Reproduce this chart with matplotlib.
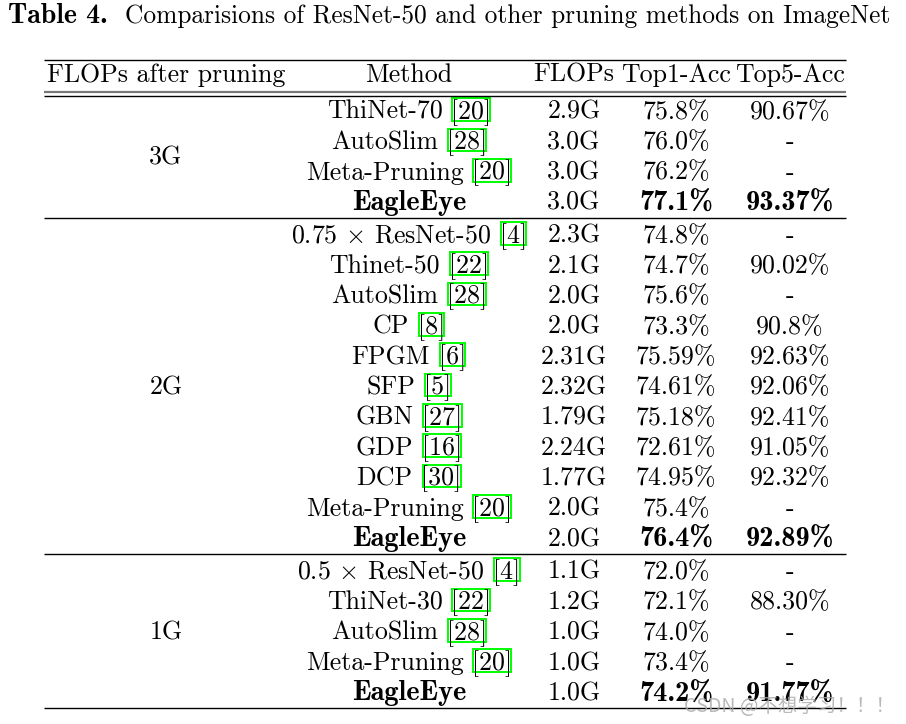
import matplotlib
matplotlib.use("Agg")
import matplotlib.pyplot as plt
from matplotlib.font_manager import FontProperties
from matplotlib.patches import Rectangle

plt.rcParams['mathtext.fontset'] = 'cm'

title_bold = "Table 4."
title_rest = "Comparisions of ResNet-50 and other pruning methods on ImageNet"
headers = ["FLOPs after pruning", "Method", "FLOPs", "Top1-Acc", "Top5-Acc"]

groups = ["3G", "2G", "1G"]
group_sizes = [4, 11, 5]

methods = ["ThiNet-70", "AutoSlim", "Meta-Pruning", "EagleEye",
           r"0.75 $\times$ ResNet-50", "Thinet-50", "AutoSlim", "CP", "FPGM", "SFP",
           "GBN", "GDP", "DCP", "Meta-Pruning", "EagleEye",
           r"0.5 $\times$ ResNet-50", "ThiNet-30", "AutoSlim", "Meta-Pruning", "EagleEye"]
cites = ["20", "28", "20", "",
         "4", "22", "28", "8", "6", "5", "27", "16", "30", "20", "",
         "4", "22", "28", "20", ""]
flops = ["2.9G", "3.0G", "3.0G", "3.0G",
         "2.3G", "2.1G", "2.0G", "2.0G", "2.31G", "2.32G", "1.79G", "2.24G", "1.77G", "2.0G", "2.0G",
         "1.1G", "1.2G", "1.0G", "1.0G", "1.0G"]
top1 = ["75.8%", "76.0%", "76.2%", "77.1%",
        "74.8%", "74.7%", "75.6%", "73.3%", "75.59%", "74.61%", "75.18%", "72.61%", "74.95%", "75.4%", "76.4%",
        "72.0%", "72.1%", "74.0%", "73.4%", "74.2%"]
top5 = ["90.67%", "-", "-", "93.37%",
        "-", "90.02%", "-", "90.8%", "92.63%", "92.06%", "92.41%", "91.05%", "92.32%", "-", "92.89%",
        "-", "88.30%", "-", "-", "91.77%"]
highlight = ["EagleEye"]

W, H = 906, 724
fig = plt.figure(figsize=(W / 100, H / 100), dpi=100)
ax = fig.add_axes([0, 0, 1, 1])
ax.set_xlim(0, W)
ax.set_ylim(H, 0)
ax.axis('off')
renderer = fig.canvas.get_renderer()

FS = 18.6
rm = FontProperties(family='cmr10', size=FS)
bf = FontProperties(family='cmb10', size=FS * 1.1)
bf_title = FontProperties(family='cmb10', size=FS * 1.08)

def width(s, fp):
    t = ax.text(0, 0, s, fontproperties=fp)
    w = t.get_window_extent(renderer).width
    t.remove()
    return w

CAP = 0.683 * FS * 100 / 72   # cap height in px

def ctext(x, yc, s, fp):
    ax.text(x, yc + CAP / 2, s, fontproperties=fp, ha='center', va='baseline', color='black')

# title
ty = 14 + CAP / 2
ax.text(8, ty, title_bold, fontproperties=bf_title, ha='left', va='baseline')
wr0 = width(title_rest, rm)
rm_title = FontProperties(family='cmr10', size=FS * (890 - 125) / wr0)
ax.text(125, ty, title_rest, fontproperties=rm_title, ha='left', va='baseline')

xl, xr = 44, 846
col_x = [166, 409, 574, 676, 790]

# rules
ax.plot([xl, xr], [59.5, 59.5], color='black', lw=1.0, solid_capstyle='butt')
ax.plot([xl, xr], [91.5, 91.5], color='#777777', lw=1.6, solid_capstyle='butt')
ax.plot([xl, xr], [96, 96], color='black', lw=1.0, solid_capstyle='butt')

header_y = 73
for x, h in zip(col_x, headers):
    ctext(x, header_y, h, rm)

pitch = 30.35
gap_rule = 16.3
gname = 9  # px gap between name and citation

y = 110
idx = 0
for g, n in zip(groups, group_sizes):
    ys = []
    for k in range(n):
        ys.append(y)
        i = idx
        bold = methods[i] in highlight
        fpm = bf if bold else rm
        wn = width(methods[i], fpm)
        if cites[i]:
            cstr = "[" + cites[i] + "]"
            wc = width(cstr, rm)
            total = wn + gname + wc
        else:
            total = wn
        x0 = col_x[1] - total / 2
        base = y + CAP / 2
        ax.text(x0, base, methods[i], fontproperties=fpm, ha='left', va='baseline')
        if cites[i]:
            xc = x0 + wn + gname
            ax.text(xc, base, cstr, fontproperties=rm, ha='left', va='baseline')
            ax.add_patch(Rectangle((xc + 1, base - CAP - 3), wc - 2, CAP + 5,
                                   fill=False, edgecolor='#00ff00', lw=1.4))
        ctext(col_x[2], y, flops[i], rm)
        ctext(col_x[3], y, top1[i], bf if bold else rm)
        ctext(col_x[4], y, top5[i], bf if bold else rm)
        idx += 1
        if k < n - 1:
            y += pitch
    ctext(col_x[0], (ys[0] + ys[-1]) / 2, g, rm)
    ry = y + gap_rule + 0.2
    ax.plot([xl, xr], [ry, ry], color='black', lw=1.0, solid_capstyle='butt')
    y = ry + gap_rule

ax.text(895, 706, "CSDN @不想学习！！！", family=['Noto Sans CJK SC', 'DejaVu Sans'],
        fontsize=14, color='#a8a8a8', alpha=0.8, ha='right', va='center')

fig.savefig("out.png", dpi=100)
